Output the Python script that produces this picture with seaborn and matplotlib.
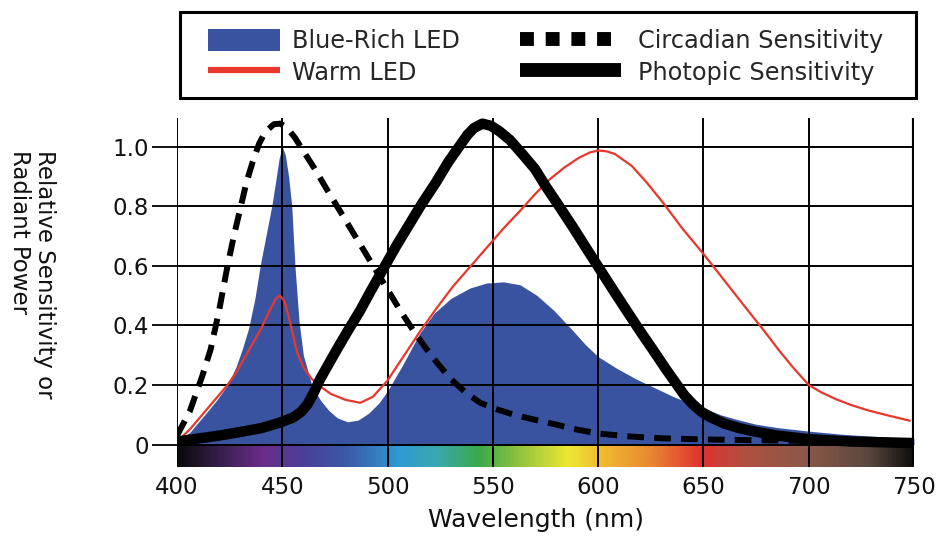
import numpy as np
import seaborn as sns
import matplotlib.pyplot as plt
from matplotlib.colors import LinearSegmentedColormap
from matplotlib.patches import Patch, Rectangle
from matplotlib.lines import Line2D

# blue-rich LED spectrum (filled area)
blue_wl = [400, 406, 414, 419, 424, 428, 431, 434, 437, 439.5, 442.5, 445, 447, 448.5, 450,
           451.5, 453, 454.5, 456, 458, 460, 464, 468, 472, 476, 481, 486, 491, 496, 500, 507, 515,
           522, 530, 539, 547, 555, 563, 571, 579, 587, 594, 600, 609, 618, 627, 636, 645, 650,
           658, 666, 675, 685, 700, 715, 730, 750]
blue_val = [0.01, 0.04, 0.107, 0.15, 0.20, 0.26, 0.32, 0.39, 0.49, 0.60, 0.71, 0.80, 0.89, 0.96, 1.00,
            0.97, 0.90, 0.80, 0.60, 0.41, 0.30, 0.20, 0.15, 0.115, 0.09, 0.076, 0.082, 0.105, 0.14, 0.18, 0.265, 0.37,
            0.44, 0.49, 0.525, 0.542, 0.546, 0.536, 0.50, 0.45, 0.39, 0.335, 0.295, 0.255, 0.22, 0.19, 0.16, 0.135, 0.124,
            0.10, 0.084, 0.068, 0.057, 0.045, 0.035, 0.028, 0.02]

# warm LED spectrum (red line)
warm_wl = [400, 406, 412, 418, 424, 428, 432, 436, 440, 444, 447, 449, 451, 453, 455, 457, 460, 464,
           468, 473, 480, 487, 493, 500, 507, 515, 523, 531, 539, 547, 555, 563, 570, 577, 584, 591,
           596, 600, 604, 608, 616, 623, 631, 640, 650, 660, 670, 679, 686, 693, 700, 706, 713, 720,
           728, 738, 748]
warm_val = [0.01, 0.05, 0.10, 0.15, 0.20, 0.24, 0.29, 0.34, 0.39, 0.45, 0.49, 0.50, 0.48, 0.43, 0.37, 0.31, 0.26, 0.22,
            0.195, 0.17, 0.15, 0.14, 0.16, 0.215, 0.29, 0.375, 0.455, 0.53, 0.595, 0.66, 0.725, 0.785, 0.84, 0.89, 0.93, 0.963,
            0.98, 0.987, 0.984, 0.975, 0.935, 0.88, 0.81, 0.725, 0.64, 0.55, 0.46, 0.38, 0.315, 0.255, 0.20, 0.175, 0.152, 0.133,
            0.115, 0.097, 0.08]

# circadian sensitivity (dashed)
circ_wl = [400, 403, 406, 409, 412, 416, 420, 424, 427, 430, 433, 436, 439, 442, 446, 449, 452, 456,
           460, 465, 470, 476, 482, 488, 494, 500, 506, 512, 518, 524, 530, 537, 544, 551, 560, 570,
           580, 590, 600, 615, 630, 650, 700, 750]
circ_val = [0.03, 0.07, 0.11, 0.17, 0.23, 0.32, 0.45, 0.60, 0.70, 0.79, 0.88, 0.95, 1.01, 1.05, 1.075, 1.077, 1.065, 1.03,
            0.985, 0.93, 0.87, 0.80, 0.73, 0.66, 0.59, 0.52, 0.45, 0.385, 0.325, 0.27, 0.22, 0.175, 0.14, 0.12, 0.10, 0.083,
            0.067, 0.05, 0.037, 0.027, 0.021, 0.017, 0.012, 0.01]

# photopic sensitivity (thick black)
phot_wl = [400, 410, 420, 430, 440, 449, 455, 459, 462, 465, 468, 472, 476, 481, 487, 492, 498, 504,
           510, 516, 523, 529, 534, 538, 541, 545, 549, 553, 558, 564, 570, 575, 581, 588, 594, 600,
           607, 613, 620, 626, 632, 637, 641, 645, 649, 653, 660, 667, 674, 685, 700, 720, 750]
phot_val = [0.01, 0.02, 0.03, 0.042, 0.055, 0.074, 0.09, 0.11, 0.135, 0.175, 0.22, 0.27, 0.32, 0.38, 0.45, 0.515, 0.59, 0.665,
            0.735, 0.805, 0.88, 0.95, 1.0, 1.04, 1.062, 1.077, 1.07, 1.052, 1.023, 0.975, 0.925, 0.868, 0.805, 0.73, 0.663, 0.597,
            0.52, 0.455, 0.38, 0.318, 0.255, 0.205, 0.165, 0.135, 0.11, 0.093, 0.07, 0.055, 0.044, 0.03, 0.018, 0.01, 0.005]

x_ticks = [400, 450, 500, 550, 600, 650, 700, 750]
y_ticks = [0, 0.2, 0.4, 0.6, 0.8, 1.0]
y_labels = ['0', '0.2', '0.4', '0.6', '0.8', '1.0']

sns.set_style('white')
plt.rcParams['font.family'] = ['DejaVu Sans']

fig, ax = plt.subplots(figsize=(9.38, 5.38), dpi=100)
fig.subplots_adjust(left=0.1887, right=0.9744, bottom=0.1325, top=0.7807)

ymin, ymax = -0.0745, 1.096

# visible spectrum strip under the plot
stops = [(0.0, '#0a0a0a'), (0.06, '#3a2050'), (0.114, '#6a2d8a'), (0.17, '#4a3f98'),
         (0.23, '#3a5aa8'), (0.3, '#2e9ad4'), (0.35, '#3aa8b0'), (0.41, '#3aaa48'),
         (0.46, '#8cc040'), (0.53, '#ece830'), (0.571, '#f0c030'), (0.643, '#e88830'),
         (0.714, '#e03030'), (0.77, '#b05040'), (0.857, '#8a5848'), (0.94, '#5a4840'),
         (1.0, '#101010')]
spec = LinearSegmentedColormap.from_list('spec', stops)
ax.imshow(np.linspace(0, 1, 700)[None, :], extent=[400, 750, ymin, 0], aspect='auto',
          cmap=spec, zorder=0.5)

ax.fill_between(blue_wl, blue_val, color='#3a53a0', lw=0, zorder=1)

for xv in x_ticks:
    ax.axvline(xv, color='black', lw=3 if xv == 750 else 1.4, zorder=2)
ax.hlines(y_ticks, 400, 750, color='black', lw=1.4, zorder=2)

sns.lineplot(x=warm_wl, y=warm_val, ax=ax, color='#e8372c', lw=1.6, zorder=3)
sns.lineplot(x=circ_wl, y=circ_val, ax=ax, color='black', lw=4.3,
             linestyle=(0, (2.8, 1.7)), zorder=4)
sns.lineplot(x=phot_wl, y=phot_val, ax=ax, color='black', lw=7.5, zorder=5,
             solid_capstyle='butt', solid_joinstyle='round')

ax.set_xlim(400, 750)
ax.set_ylim(ymin, ymax)
ax.set_xticks(x_ticks)
ax.set_xticklabels([str(v) for v in x_ticks])
ax.set_yticks(y_ticks)
ax.set_yticklabels(y_labels)
ax.tick_params(axis='x', length=0, pad=7, labelsize=16.5, colors='#111111')
ax.tick_params(axis='y', length=18, width=1.4, pad=2, labelsize=16.5, colors='#111111',
               left=True)
for s in ax.spines.values():
    s.set_visible(False)
ax.set_xlabel('')
ax.set_ylabel('')

fig.text(536 / 938, 1 - 520 / 538, 'Wavelength (nm)', ha='center', va='center',
         fontsize=18, color='#111111')
fig.text(0.034, 1 - 150 / 538, 'Relative Sensitivity or\nRadiant Power', rotation=270,
         ha='center', va='top', multialignment='left', fontsize=16.5, color='#111111',
         linespacing=1.1)

# legend: two columns with their own handle lengths, inside one frame
fig.patches.append(Rectangle((180 / 938, 1 - 98 / 538), 736 / 938, 86 / 538,
                             transform=fig.transFigure, fill=False, lw=2.2,
                             ec='black', zorder=10))
h1 = [Patch(facecolor='#3a53a0', edgecolor='none'),
      Line2D([], [], color='#e8372c', lw=4.5, solid_capstyle='butt')]
leg1 = fig.legend(h1, ['Blue-Rich LED', 'Warm LED'], loc='center left',
                  bbox_to_anchor=(208 / 938, 1 - 57 / 538), frameon=False,
                  fontsize=17.3, handlelength=3.0, handleheight=1.05,
                  handletextpad=0.5, labelspacing=0.3, borderpad=0, borderaxespad=0)
h2 = [Line2D([], [], color='black', lw=10, linestyle=(0, (1, 0.85))),
      Line2D([], [], color='black', lw=10, solid_capstyle='butt')]
leg2 = fig.legend(h2, ['Circadian Sensitivity', 'Photopic Sensitivity'], loc='center left',
                  bbox_to_anchor=(520 / 938, 1 - 57 / 538), frameon=False,
                  fontsize=17.3, handlelength=4.2, handleheight=1.05,
                  handletextpad=0.72, labelspacing=0.3, borderpad=0, borderaxespad=0)

fig.savefig('out.png', dpi=100)
